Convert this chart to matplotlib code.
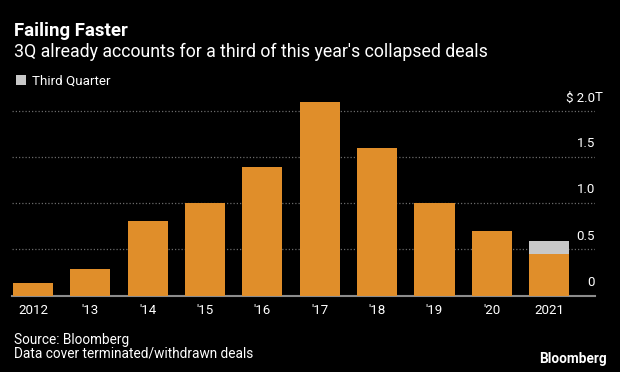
import matplotlib
matplotlib.use("Agg")
import matplotlib.pyplot as plt
import matplotlib.transforms as mtransforms

# data (trillions of dollars)
years = ["2012", "'13", "'14", "'15", "'16", "'17", "'18", "'19", "'20", "2021"]
first_part = [0.14, 0.29, 0.81, 1.00, 1.40, 2.10, 1.60, 1.00, 0.70, 0.45]
third_quarter = [0, 0, 0, 0, 0, 0, 0, 0, 0, 0.14]
y_ticks = [0, 0.5, 1.0, 1.5, 2.0]
y_labels = ["0", "0.5", "1.0", "1.5", "$ 2.0T"]

orange = "#E08E2A"
grey = "#C8C8C8"
font = "Roboto"

plt.rcParams["font.family"] = [font, "DejaVu Sans"]

fig = plt.figure(figsize=(6.2, 3.72), dpi=100, facecolor="black")
ax = fig.add_axes([0.0194, 0.2056, 0.9403, 0.5447])
ax.set_facecolor("black")

x = list(range(len(years)))
ax.bar(x, first_part, width=0.70, color=orange, zorder=3)
q3 = ax.bar(x, third_quarter, width=0.70, bottom=first_part, color=grey,
            zorder=3, label="Third Quarter")

ax.set_xlim(-0.366, 9.80)
ax.set_ylim(0, 2.2)

# dotted gridlines
for v in y_ticks[1:]:
    ax.axhline(v, color="#6a6a6a", lw=0.9, dashes=(1, 1.6), zorder=1)

for s in ["top", "left", "right"]:
    ax.spines[s].set_visible(False)
ax.spines["bottom"].set_color("#8c8c8c")
ax.spines["bottom"].set_linewidth(1.5)

ax.set_yticks([])
ax.set_xticks(x)
ax.set_xticklabels(years, color="white", fontsize=9.6)
ax.tick_params(axis="x", length=0, pad=6)

# value labels sit above the gridlines at the right edge
shift = mtransforms.ScaledTranslation(0, 5 / 72, fig.dpi_scale_trans)
trans = mtransforms.blended_transform_factory(ax.transAxes, ax.transData) + shift
for v, lab in zip(y_ticks, y_labels):
    if lab.endswith("T"):
        ax.text(1.0, v, lab[:-1], transform=trans, ha="right", va="bottom",
                color="white", fontsize=9.5)
        ax.text(1.0, v, "T", transform=trans, ha="left", va="bottom",
                color="white", fontsize=9.5)
    else:
        ax.text(1.0, v, lab, transform=trans, ha="right", va="bottom",
                color="white", fontsize=9.5)

# titles
fig.text(0.022, 1 - 36 / 372, "Failing Faster", color="white", fontsize=13.4,
         fontweight="bold", va="baseline")
fig.text(0.022, 1 - 57 / 372,
         "3Q already accounts for a third of this year's collapsed deals",
         color="white", fontsize=12.8, va="baseline")

leg = fig.legend(handles=[q3], loc="upper left", bbox_to_anchor=(0.025, 1 - 75 / 372),
                 frameon=False, fontsize=9.6, handlelength=0.75, handleheight=0.75,
                 handletextpad=0.5, borderaxespad=0, borderpad=0)
for t in leg.get_texts():
    t.set_color("white")

fig.text(0.022, 1 - 344 / 372, "Source: Bloomberg", color="white", fontsize=9.8,
         va="baseline")
fig.text(0.022, 1 - 358 / 372, "Data cover terminated/withdrawn deals", color="white",
         fontsize=9.8, va="baseline")
fig.text(0.979, 1 - 363 / 372, "Bloomberg", color="white", fontsize=9.8,
         fontweight="bold", ha="right", va="baseline")

fig.savefig("out.png", dpi=100, facecolor="black")
